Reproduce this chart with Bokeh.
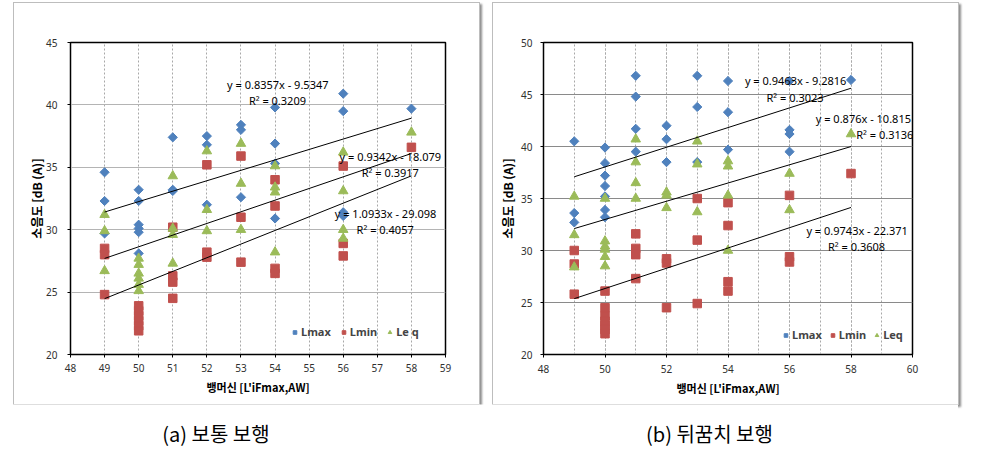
import numpy as np
from bokeh.plotting import figure
from bokeh.models import Label, Legend, LegendItem, SingleIntervalTicker, Spacer
from bokeh.layouts import row, column
from bokeh.embed import file_html
from bokeh.resources import INLINE

# ---------------- data: (a) 보통 보행 ----------------
a_lmax_x = [49, 49, 49, 50, 50, 50, 50, 50, 50, 51, 51, 51, 52, 52, 52, 53, 53, 53,
            54, 54, 54, 54, 56, 56, 56, 56, 58]
a_lmax_y = [34.6, 32.3, 29.7, 33.2, 32.3, 30.4, 30.1, 29.8, 28.1, 37.4, 33.2, 33.1,
            37.5, 36.8, 32.0, 38.4, 38.0, 32.6, 39.8, 36.9, 35.3, 30.9, 40.9, 39.5,
            31.4, 31.1, 39.7]
a_lmin_x = [49, 49, 49, 50, 50, 50, 50, 50, 50, 51, 51, 51, 51, 52, 52, 52, 53, 53, 53,
            54, 54, 54, 54, 56, 56, 56, 58]
a_lmin_y = [28.5, 28.0, 24.8, 23.9, 23.5, 23.1, 22.7, 22.3, 21.9, 30.2, 26.3, 25.8, 24.5,
            35.2, 28.2, 27.8, 35.9, 31.0, 27.4, 34.0, 31.9, 26.9, 26.5, 35.1, 28.9, 27.9,
            36.6]
a_leq_x = [49, 49, 49, 50, 50, 50, 50, 50, 50, 51, 51, 51, 51, 52, 52, 52, 53, 53, 53,
           54, 54, 54, 54, 56, 56, 56, 56, 58]
a_leq_y = [31.2, 29.9, 26.7, 27.7, 27.2, 26.5, 26.1, 25.6, 25.1, 34.3, 30.1, 29.6, 27.3,
           36.3, 31.6, 29.9, 36.9, 33.7, 30.0, 35.1, 33.4, 33.0, 28.2, 36.2, 33.1, 30.0,
           29.3, 37.8]
# trend lines (Lmax, Lmin, Leq)
a_slope = [0.8357, 1.0933, 0.9342]
a_icept = [-9.5347, -29.098, -18.079]
a_eq = ["y = 0.8357x - 9.5347", "y = 1.0933x - 29.098", "y = 0.9342x - 18.079"]
a_r2 = ["R² = 0.3209", "R² = 0.4057", "R² = 0.3917"]
a_legend = ["Lmax", "Lmin", "Le q"]

# ---------------- data: (b) 뒤꿈치 보행 ----------------
b_lmax_x = [49, 49, 49, 50, 50, 50, 50, 50, 50, 50, 51, 51, 51, 51, 52, 52, 52,
            53, 53, 53, 54, 54, 54, 56, 56, 56, 56, 58]
b_lmax_y = [40.5, 33.6, 32.7, 39.9, 38.4, 37.2, 36.2, 35.2, 33.9, 33.2, 46.8, 44.8, 41.7,
            39.5, 42.0, 40.7, 38.5, 46.8, 43.8, 38.5, 46.3, 43.3, 39.7, 46.3, 41.6, 41.2,
            39.5, 46.4]
b_lmin_x = [49, 49, 49, 50, 50, 50, 50, 50, 50, 50, 51, 51, 51, 51, 52, 52, 52,
            53, 53, 53, 54, 54, 54, 54, 56, 56, 56, 58]
b_lmin_y = [30.0, 28.7, 25.8, 26.1, 24.5, 23.7, 23.2, 22.8, 22.4, 22.0, 31.6, 30.2, 29.6,
            27.3, 29.2, 28.8, 24.5, 35.0, 31.0, 24.9, 34.6, 32.4, 27.0, 26.1, 35.3, 29.4,
            28.9, 37.4]
b_leq_x = [49, 49, 49, 50, 50, 50, 50, 50, 50, 51, 51, 51, 51, 52, 52, 52, 53, 53, 53,
           54, 54, 54, 54, 56, 56, 58]
b_leq_y = [35.2, 31.5, 28.4, 35.0, 30.9, 30.4, 30.1, 29.4, 28.5, 40.7, 38.5, 36.5, 35.0,
           35.6, 35.3, 34.1, 40.5, 38.3, 33.7, 38.6, 38.1, 35.3, 30.0, 37.4, 33.9, 41.2]
b_slope = [0.9463, 0.9743, 0.876]
b_icept = [-9.2816, -22.371, -10.815]
b_eq = ["y = 0.9463x - 9.2816", "y = 0.9743x - 22.371", "y = 0.876x - 10.815"]
b_r2 = ["R² = 0.3023", "R² = 0.3608", "R² = 0.3136"]
b_legend = ["Lmax", "Lmin", "Leq"]

captions = ["(a) 보통 보행", "(b) 뒤꿈치 보행"]
y_title = "소음도 [dB (A)]"
x_title = "뱅머신 [L'iFmax,AW]"

COLORS = ["#4F81BD", "#C0504D", "#9BBB59"]
KFONT = "Noto Sans CJK KR"


def make_panel(xr, yr, x_int, x_minor, borders, series, slopes, icepts, eqs, r2s,
               eq_pos, r2_pos, eq_align, leg_labels, leg_loc, leg_spacing,
               ytick_standoff, ylab_standoff, hgrid_color):
    bl, br, bt, bb = borders
    p = figure(width=465, height=401, x_range=xr, y_range=yr,
               output_backend="svg", toolbar_location=None,
               min_border_left=bl, min_border_right=br,
               min_border_top=bt, min_border_bottom=bb)
    p.styles = {"box-shadow": "0 0 0 1px #bdbdbd, 2px 2px 2px 1px #8f8f8f"}
    p.background_fill_color = "white"
    p.border_fill_color = "white"
    p.outline_line_color = "black"
    p.outline_line_width = 1.5

    p.xaxis.ticker = SingleIntervalTicker(interval=x_int, num_minor_ticks=x_minor)
    p.yaxis.ticker = SingleIntervalTicker(interval=5, num_minor_ticks=0)
    for ax in (p.xaxis, p.yaxis):
        ax.axis_line_color = "black"
        ax.axis_line_width = 1
        ax.major_tick_out = 3
        ax.major_tick_in = 0
        ax.minor_tick_line_color = None
        ax.major_tick_line_color = "black"
        ax.major_label_text_font = "Noto Sans"
        ax.major_label_text_font_size = "10px"
        ax.major_label_text_color = "#303030"
    p.xaxis.major_label_standoff = 6
    p.yaxis.major_label_standoff = ytick_standoff

    p.yaxis.axis_label = y_title
    p.yaxis.axis_label_text_font = KFONT
    p.yaxis.axis_label_text_font_size = "12px"
    p.yaxis.axis_label_text_font_style = "bold"
    p.yaxis.axis_label_text_color = "black"
    p.yaxis.axis_label_standoff = ylab_standoff

    p.xaxis.axis_label = x_title
    p.xaxis.axis_label_text_font = KFONT
    p.xaxis.axis_label_text_font_size = "11px"
    p.xaxis.axis_label_text_font_style = "bold"
    p.xaxis.axis_label_text_color = "black"
    p.xaxis.axis_label_standoff = 4

    p.xgrid.grid_line_color = "#a8a8a8"
    p.xgrid.grid_line_dash = "2 2"
    p.xgrid.grid_line_width = 1
    if x_minor:
        p.xgrid.minor_grid_line_color = "#a8a8a8"
        p.xgrid.minor_grid_line_dash = "2 2"
    p.ygrid.grid_line_color = hgrid_color
    p.ygrid.grid_line_width = 1

    rends = []
    markers = [dict(marker="square", angle=np.pi / 4, size=6.5),
               dict(marker="square", size=8.5),
               dict(marker="triangle", size=9.5)]
    for (sx, sy), col, mk in zip(series, COLORS, markers):
        r = p.scatter(sx, sy, fill_color=col, line_color=col, **mk)
        rends.append(r)
    for (sx, sy), m, b in zip(series, slopes, icepts):
        xs = np.array([min(sx), max(sx)], dtype=float)
        p.line(xs, m * xs + b, line_color="black", line_width=1)

    for txt, (lx, ly), al in zip(eqs, eq_pos, eq_align):
        p.add_layout(Label(x=lx, y=ly, text=txt, text_align=al,
                           text_baseline="middle", text_font="Noto Sans",
                           text_font_size="11px", text_color="black"))
    for txt, (lx, ly) in zip(r2s, r2_pos):
        p.add_layout(Label(x=lx, y=ly, text=txt, text_align="center",
                           text_baseline="middle", text_font="Noto Sans",
                           text_font_size="11px", text_color="black"))

    legend = Legend(items=[LegendItem(label=l, renderers=[r]) for l, r in zip(leg_labels, rends)],
                    orientation="horizontal", location=leg_loc,
                    border_line_color=None, background_fill_alpha=0,
                    padding=0, margin=0, spacing=leg_spacing,
                    glyph_width=9, glyph_height=10, label_standoff=2,
                    label_text_font="Noto Sans", label_text_font_size="11px",
                    label_text_font_style="bold", label_height=12)
    p.add_layout(legend)
    return p


pa = make_panel((48, 59), (20, 45), 1, 0, (56, 34, 24, 50),
                [(a_lmax_x, a_lmax_y), (a_lmin_x, a_lmin_y), (a_leq_x, a_leq_y)],
                a_slope, a_icept, a_eq, a_r2,
                [(54.08, 41.64), (57.24, 31.29), (57.38, 35.88)],
                [(54.07, 40.34), (57.23, 30.0), (57.38, 34.6)],
                ["center", "center", "center"],
                a_legend, (220, 15), 8, 10, -2, "#b4b4b4")

pb = make_panel((48, 60), (20, 50), 2, 2, (50, 46, 39, 50),
                [(b_lmax_x, b_lmax_y), (b_lmin_x, b_lmin_y), (b_leq_x, b_leq_y)],
                b_slope, b_icept, b_eq, b_r2,
                [(56.2, 46.32), (58.2, 31.89), (59.95, 42.72)],
                [(56.18, 44.71), (58.18, 30.36), (59.1, 41.18)],
                ["center", "center", "right"],
                b_legend, (238, 12), 6, 8, 2, "#8a8a8a")

cap = figure(width=958, height=45, x_range=(0, 958), y_range=(0, 45),
             output_backend="svg", toolbar_location=None,
             x_axis_location=None, y_axis_location=None,
             min_border=0, min_border_left=0, min_border_right=0,
             min_border_top=0, min_border_bottom=0)
cap.outline_line_color = None
cap.grid.visible = False
cap.background_fill_color = "white"
cap.border_fill_color = "white"
for txt, cx in zip(captions, [215.5, 709]):
    cap.add_layout(Label(x=cx, y=16, x_units="screen", y_units="screen", text=txt,
                         text_align="center", text_baseline="middle",
                         text_font=KFONT, text_font_size="20px", text_color="black"))

layout = column(Spacer(height=3),
                row(Spacer(width=14), pa, Spacer(width=14), pb),
                cap)

open("out.html", "w").write(file_html(layout, INLINE))
